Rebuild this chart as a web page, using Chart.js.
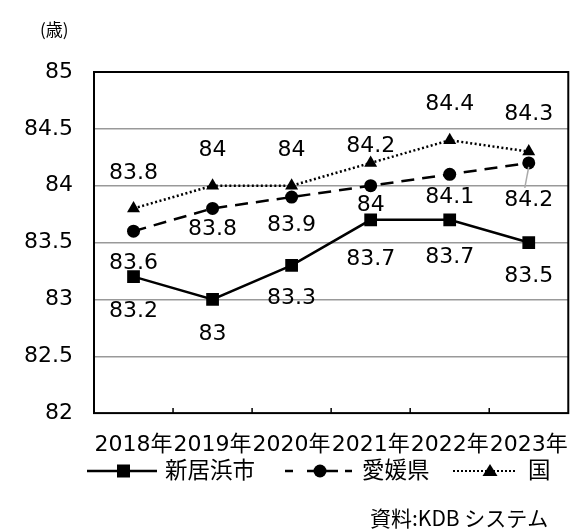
<!DOCTYPE html>
<html><head><meta charset="utf-8">
<script src="https://cdn.jsdelivr.net/npm/chart.js@4/dist/chart.umd.min.js"></script>
<style>html,body{margin:0;padding:0;background:#fff}#wrap{width:579px;height:532px;position:relative}</style>
</head><body><div id="wrap"><canvas id="c" width="579" height="532"></canvas></div>
<script>
const categories = ['2018年', '2019年', '2020年', '2021年', '2022年', '2023年'];
const niihamaValues = [83.2, 83.0, 83.3, 83.7, 83.7, 83.5];
const ehimeValues = [83.6, 83.8, 83.9, 84.0, 84.1, 84.2];
const nationalValues = [83.8, 84.0, 84.0, 84.2, 84.4, 84.3];
const seriesNames = ['新居浜市', '愛媛県', '国'];
const yTickValues = [82, 82.5, 83, 83.5, 84, 84.5, 85];
const unitLabel = '(歳)';
const sourceLabel = '資料:KDB システム';

const FONT = '"DejaVu Sans", "Noto Sans CJK JP", sans-serif';
const JFONT = '"Noto Sans CJK JP", "DejaVu Sans", sans-serif';

function drawMarker(g, kind, x, y) {
  g.beginPath();
  if (kind === 'rect') { g.rect(x - 6.5, y - 6.5, 13, 13); }
  else if (kind === 'circle') { g.arc(x, y, 6.5, 0, Math.PI * 2); }
  else { g.moveTo(x, y - 7); g.lineTo(x + 7.5, y + 5); g.lineTo(x - 7.5, y + 5); g.closePath(); }
  g.fill();
}

const extras = {
  id: 'extras',
  beforeDatasetsDraw(chart) {
    const { ctx, chartArea: a, scales: { x } } = chart;
    ctx.save();
    ctx.strokeStyle = '#000'; ctx.lineWidth = 2;
    ctx.strokeRect(a.left, a.top, a.right - a.left, a.bottom - a.top);
    ctx.lineWidth = 1.5;
    for (let i = 0; i < categories.length - 1; i++) {
      const bx = (x.getPixelForTick(i) + x.getPixelForTick(i + 1)) / 2;
      ctx.beginPath(); ctx.moveTo(bx, a.bottom); ctx.lineTo(bx, a.bottom - 5); ctx.stroke();
    }
    ctx.restore();
  },
  afterDatasetsDraw(chart, args, opts) {
    const { ctx } = chart;
    ctx.save();
    ctx.font = '22px ' + FONT;
    ctx.fillStyle = '#000';
    ctx.textAlign = 'center';
    ctx.textBaseline = 'middle';
    chart.data.datasets.forEach((ds, di) => {
      const meta = chart.getDatasetMeta(di);
      meta.data.forEach((pt, i) => {
        const dy = opts.offsets[di][i];
        if (opts.leader && opts.leader[0] === di && opts.leader[1] === i) {
          ctx.save();
          ctx.strokeStyle = '#aaa'; ctx.lineWidth = 1.5;
          ctx.beginPath(); ctx.moveTo(pt.x, pt.y + 4); ctx.lineTo(pt.x - 4, pt.y + dy - 12); ctx.stroke();
          ctx.restore();
        }
        ctx.fillText(String(ds.data[i]), pt.x, pt.y + dy);
      });
    });
    ctx.restore();
  },
  afterDraw(chart, args, opts) {
    const { ctx } = chart;
    ctx.save();
    ctx.fillStyle = '#000';
    ctx.strokeStyle = '#000';
    ctx.textBaseline = 'middle';
    ctx.textAlign = 'left';
    const ly = opts.legendY;
    chart.data.datasets.forEach((ds, i) => {
      const it = opts.legendItems[i];
      const lineY = ly + 2;
      if (it.kind === 'solid') {
        ctx.lineWidth = 2.5;
        ctx.beginPath(); ctx.moveTo(it.x0, lineY); ctx.lineTo(it.x1, lineY); ctx.stroke();
      } else if (it.kind === 'dash') {
        ctx.lineWidth = 2.5;
        [[0, 8], [22, 53], [60, 67]].forEach(s => {
          ctx.beginPath(); ctx.moveTo(it.x0 + s[0], lineY); ctx.lineTo(it.x0 + s[1], lineY); ctx.stroke();
        });
      } else {
        for (let x = it.x0; x < it.x1; x += 4) ctx.fillRect(x, lineY - 1, 2, 2);
      }
      drawMarker(ctx, ds.pointStyle, it.mx, lineY);
      ctx.font = '22.5px ' + JFONT;
      ctx.fillText(ds.label, it.tx, ly);
    });
    ctx.font = '17px ' + JFONT;
    ctx.fillText(unitLabel, 40, 30);
    ctx.font = '21px ' + JFONT;
    ctx.fillText(sourceLabel, 370, 518);
    ctx.restore();
  }
};

new Chart(document.getElementById('c'), {
  type: 'line',
  data: {
    labels: categories,
    datasets: [
      { label: seriesNames[0], data: niihamaValues, borderColor: '#000', backgroundColor: '#000', borderWidth: 2.5,
        pointStyle: 'rect', pointRadius: 9, pointBorderWidth: 0, tension: 0 },
      { label: seriesNames[1], data: ehimeValues, borderColor: '#000', backgroundColor: '#000', borderWidth: 2.5,
        borderDash: [13, 8], pointStyle: 'circle', pointRadius: 6.5, pointBorderWidth: 0, tension: 0 },
      { label: seriesNames[2], data: nationalValues, borderColor: '#000', backgroundColor: '#000', borderWidth: 2.5,
        borderDash: [2, 2.5], pointStyle: 'triangle', pointRadius: 7.5, pointBorderWidth: 0, tension: 0 }
    ]
  },
  options: {
    responsive: false, animation: false, devicePixelRatio: 1,
    layout: { padding: { left: 0, right: 7, top: 72, bottom: 63.5 } },
    scales: {
      x: {
        offset: true,
        grid: { display: false },
        border: { display: false },
        ticks: { color: '#000', font: { size: 22, family: FONT }, padding: 10.5, maxRotation: 0, autoSkip: false }
      },
      y: {
        min: 82, max: 85,
        afterBuildTicks: s => { s.ticks = yTickValues.map(v => ({ value: v })); },
        afterFit: s => { s.width = 94; },
        border: { display: false },
        grid: {
          drawTicks: false, lineWidth: 1.5, borderDash: [6, 3],
          color: c => (c.tick && (c.tick.value === 82 || c.tick.value === 85)) ? 'rgba(0,0,0,0)' : '#999'
        },
        ticks: { color: '#000', font: { size: 22, family: FONT }, padding: 21, callback: v => String(v) }
      }
    },
    plugins: {
      legend: { display: false },
      tooltip: { enabled: false },
      extras: {
        offsets: [
          [35, 35, 33, 39, 37, 34],
          [32, 21, 28, 20, 23, 37],
          [-35, -35, -35, -17, -36, -37]
        ],
        leader: [1, 5],
        legendY: 469,
        legendItems: [
          { kind: 'solid', x0: 87, x1: 157, mx: 123.5, tx: 165 },
          { kind: 'dash', x0: 285, x1: 352, mx: 320, tx: 362 },
          { kind: 'dot', x0: 453, x1: 517, mx: 490, tx: 528 }
        ]
      }
    }
  },
  plugins: [extras]
});
</script>
</body></html>
